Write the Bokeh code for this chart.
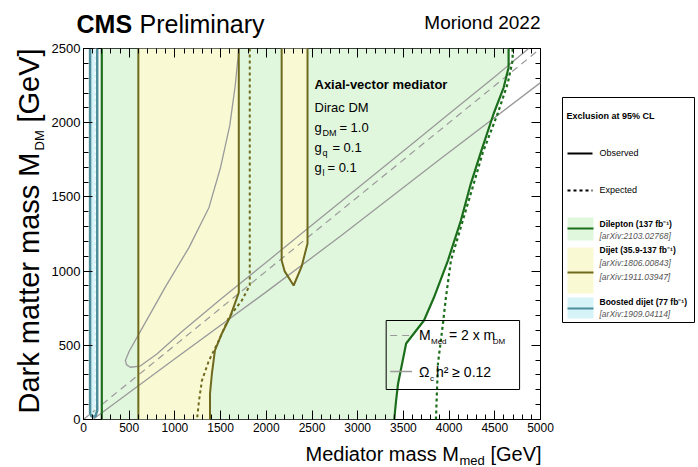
import numpy as np
from bokeh.plotting import figure
from bokeh.layouts import row, column
from bokeh.models import Range1d, LinearAxis, Label, FixedTicker
from bokeh.embed import file_html
from bokeh.resources import INLINE

FONT = "Liberation Sans"

# ---------------- data ----------------
dilep_obs_x = [3400, 3420, 3442, 3530, 3725, 3834, 3987, 4129, 4238, 4347, 4488, 4597, 4651, 4651]
dilep_obs_y = [0, 128, 243, 512, 667, 822, 1071, 1341, 1590, 1800, 2062, 2237, 2372, 2500]
dilep_exp_x = [3856, 3878, 3933, 3965, 4020, 4150, 4270, 4369, 4532, 4641, 4695, 4695]
dilep_exp_y = [0, 377, 647, 822, 1071, 1341, 1590, 1800, 2062, 2264, 2419, 2500]
dilep_left_x = 200

dijet_left_x = 600
dijet_obs_x = [1699, 1699, 1601, 1514, 1438, 1405, 1384, 1384]
dijet_obs_y = [2500, 855, 687, 580, 465, 310, 175, 0]
dijet_exp_x = [1819, 1819, 1732, 1590, 1481, 1373, 1296, 1264, 1242]
dijet_exp_y = [2500, 903, 802, 687, 532, 398, 263, 128, 0]
island_x = [2168, 2168, 2200, 2299, 2386, 2451, 2451]
island_y = [2500, 1071, 1000, 903, 1030, 1186, 2500]

boost_obs_x = [72, 72, 90, 130, 150, 150]
boost_obs_y = [2500, 40, 20, 20, 60, 2500]
boost_exp_x = [128, 128]
boost_exp_y = [60, 2500]

diag_x = [0, 5000]
diag_y = [0, 2500]
relic_up_x = [1700, 1660, 1600, 1500, 1373, 1155, 893, 610, 500, 458, 470, 512, 620, 800, 1078,
              1500, 2000, 2500, 3000, 3500, 4000, 4500, 4870]
relic_up_y = [2500, 2250, 1980, 1700, 1429, 1160, 890, 580, 460, 398, 370, 352, 360, 440, 593,
              810, 1060, 1310, 1560, 1810, 2060, 2310, 2500]
relic_lo_x = [100, 131, 1000, 2000, 2821, 3910, 5000]
relic_lo_y = [0, 13, 410, 860, 1240, 1759, 2270]

x_ticks = [0, 500, 1000, 1500, 2000, 2500, 3000, 3500, 4000, 4500, 5000]
y_ticks = [0, 500, 1000, 1500, 2000, 2500]

# ---------------- colours ----------------
GREEN_FILL = "#e0f7dd"
GREEN_LINE = "#1b6e1b"
YELLOW_FILL = "#f9fad4"
OLIVE = "#6e691d"
CYAN_FILL = "#d6f3f7"
TEAL = "#4e8e9a"
GRAY = "#9a9a9a"

TOTAL_H = 467
LEFT_W = 48          # y-label strip
TOP_H = 40           # title strip
BOT_H = 24           # x-label strip
PW = 508             # main figure width
PH = TOTAL_H - TOP_H - BOT_H
LEG_W = 698 - LEFT_W - PW

p = figure(width=PW, height=PH, output_backend="svg", toolbar_location=None,
           x_range=Range1d(0, 5000), y_range=Range1d(0, 2500),
           min_border_left=81 - LEFT_W, min_border_right=16, min_border_top=8, min_border_bottom=24)
p.frame_align = False
p.xgrid.visible = False
p.ygrid.visible = False
p.outline_line_color = "black"
p.outline_line_width = 1
p.border_fill_color = "white"

# fills
p.patch([dilep_left_x] + dilep_obs_x + [dilep_left_x], [0] + dilep_obs_y + [2500],
        fill_color=GREEN_FILL, line_color=None)
p.patch([dijet_left_x, dijet_left_x] + dijet_obs_x, [0, 2500] + dijet_obs_y,
        fill_color=YELLOW_FILL, line_color=None)
p.patch(island_x, island_y, fill_color=YELLOW_FILL, line_color=None)
p.patch(boost_obs_x, boost_obs_y, fill_color=CYAN_FILL, line_color=None)

# relic lines
p.line(diag_x, diag_y, line_color=GRAY, line_width=1.2, line_dash="7 5")
p.line(relic_up_x, relic_up_y, line_color=GRAY, line_width=1.3)
p.line(relic_lo_x, relic_lo_y, line_color=GRAY, line_width=1.3)

# contour lines
p.line([dilep_left_x, dilep_left_x], [0, 2500], line_color=GREEN_LINE, line_width=2.2)
p.line(dilep_obs_x, dilep_obs_y, line_color=GREEN_LINE, line_width=2.2)
p.line(dilep_exp_x, dilep_exp_y, line_color=GREEN_LINE, line_width=2.2, line_dash="3 3")
p.line([dijet_left_x, dijet_left_x], [0, 2500], line_color=OLIVE, line_width=2)
p.line(dijet_obs_x, dijet_obs_y, line_color=OLIVE, line_width=2)
p.line(dijet_exp_x, dijet_exp_y, line_color=OLIVE, line_width=2, line_dash="3 3")
p.line(island_x, island_y, line_color=OLIVE, line_width=2)
p.line(boost_obs_x, boost_obs_y, line_color=TEAL, line_width=2.5)
p.line(boost_exp_x, boost_exp_y, line_color="white", line_width=1.2, line_dash="3 3")

# axes, ROOT style with ticks inside
def style_axis(ax, show_labels, fsize):
    ax.major_tick_in = 9
    ax.major_tick_out = 0
    ax.minor_tick_in = 5
    ax.minor_tick_out = 0
    ax.major_tick_line_color = "black"
    ax.minor_tick_line_color = "black"
    ax.axis_line_color = None
    ax.major_label_text_font = FONT
    ax.major_label_text_font_size = fsize
    ax.major_label_text_color = "black"
    if not show_labels:
        ax.major_label_text_font_size = "0px"
        ax.major_label_text_color = None
        ax.major_label_standoff = 0

xminor = list(range(0, 5001, 100))
yminor = list(range(0, 2501, 100))
p.xaxis.ticker = FixedTicker(ticks=x_ticks, minor_ticks=xminor)
p.yaxis.ticker = FixedTicker(ticks=y_ticks, minor_ticks=yminor)
style_axis(p.xaxis[0], True, "12px")
style_axis(p.yaxis[0], True, "13px")
p.xaxis.major_label_standoff = 3
p.yaxis.major_label_standoff = 3

ax_top = LinearAxis(ticker=FixedTicker(ticks=x_ticks, minor_ticks=xminor))
style_axis(ax_top, False, "12px")
p.add_layout(ax_top, "above")
ax_right = LinearAxis(ticker=FixedTicker(ticks=y_ticks, minor_ticks=yminor))
style_axis(ax_right, False, "12px")
p.add_layout(ax_right, "right")

# Text placement: (px, py) is the text's baseline point in page pixels; labels are
# anchored at their vertical middle, about 0.36 em above the baseline.
MID = 0.36

def fs_num(size):
    return float(size.replace("px", ""))

def dx(px):
    return (px - 81) * 5000 / 459
def dy(py):
    return (419 - py) * 2500 / 371

def lab(px, py, text, size, style="normal", color="black", align="left"):
    cy = py - MID * fs_num(size)
    p.add_layout(Label(x=dx(px), y=dy(cy), text=text, text_font=FONT, text_font_size=size,
                       text_font_style=style, text_color=color, text_align=align,
                       text_baseline="middle"))

lab(313, 89, "Axial-vector mediator", "13px", "bold")
lab(313, 112, "Dirac DM", "13px")
lab(313, 132, "g", "13px")
lab(321, 136, "DM", "9px")
lab(338, 132, "= 1.0", "13px")
lab(313, 152, "g", "13px")
lab(321, 156, "q", "9px")
lab(331, 152, "= 0.1", "13px")
lab(313, 172, "g", "13px")
lab(321, 176, "l", "9px")
lab(326, 172, "= 0.1", "13px")

# inner legend
bx = [dx(385), dx(519), dx(519), dx(385), dx(385)]
by = [dy(320), dy(320), dy(389), dy(389), dy(320)]
p.line(bx, by, line_color="black", line_width=1)
p.line([dx(389), dx(411)], [dy(335), dy(335)], line_color=GRAY, line_width=1.2, line_dash="7 5")
p.line([dx(389), dx(411)], [dy(371), dy(371)], line_color=GRAY, line_width=1.3)
lab(418, 340, "M", "14px")
lab(430, 344, "Med", "8px")
lab(448, 340, "= 2 x m", "14px")
lab(492, 344, "DM", "8px")
lab(418, 377, "Ω", "14px")
lab(429, 381, "c", "8px")
lab(435, 377, "h² ≥ 0.12", "14px")

# ---------------- helper strips (texts outside the frame) ----------------
def blank(w, h):
    f = figure(width=w, height=h, output_backend="svg", toolbar_location=None,
               x_range=Range1d(0, w), y_range=Range1d(0, h),
               x_axis_location=None, y_axis_location=None,
               min_border_left=0, min_border_right=0, min_border_top=0, min_border_bottom=0)
    f.frame_align = False
    f.grid.visible = False
    f.outline_line_color = None
    f.border_fill_color = "white"
    f.background_fill_color = "white"
    return f

def put(f, ox, oy, px, py, text, size, style="normal", color="black", align="left", rotated=False):
    fs = fs_num(size)
    if rotated:
        cx, cy = px - MID * fs, py
        ang = np.pi / 2
    else:
        cx, cy = px, py - MID * fs
        ang = 0
    f.add_layout(Label(x=cx - ox, y=f.height - (cy - oy), text=text, text_font=FONT,
                       text_font_size=size, text_font_style=style, text_color=color,
                       text_align=align, text_baseline="middle", angle=ang))

# title strip
top = blank(PW, TOP_H)
put(top, LEFT_W, 0, 76, 32, "CMS", "25px", "bold")
put(top, LEFT_W, 0, 139, 32, "Preliminary", "25px")
put(top, LEFT_W, 0, 540, 29, "Moriond 2022", "19px", align="right")

# x-label strip
bot = blank(PW, BOT_H)
oy_b = TOP_H + PH
put(bot, LEFT_W, oy_b, 305, 461, "Mediator mass M", "20px")
put(bot, LEFT_W, oy_b, 459, 465, "med", "13px")
put(bot, LEFT_W, oy_b, 490, 461, "[GeV]", "20px")

# y-label strip (reads bottom to top)
left = blank(LEFT_W, TOTAL_H)
put(left, 0, 0, 39, 413, "Dark matter mass M", "29px", rotated=True)
put(left, 0, 0, 44, 150, "DM", "13px", rotated=True)
put(left, 0, 0, 39, 122, "[GeV]", "29px", rotated=True)

# ---------------- right legend panel ----------------
q = blank(LEG_W, TOTAL_H)
X0 = LEFT_W + PW
def qx(px):
    return px - X0
def qy(py):
    return TOTAL_H - py

def qlab(px, py, text, size, style="normal", color="black"):
    put(q, X0, 0, px, py, text, size, style, color)

q.line([qx(562), qx(694), qx(694), qx(562), qx(562)],
       [qy(97), qy(97), qy(322), qy(322), qy(97)], line_color="black", line_width=1)

qlab(566, 119, "Exclusion at 95% CL", "9px", "bold")
q.line([qx(567), qx(592)], [qy(153), qy(153)], line_color="black", line_width=2)
qlab(599, 156, "Observed", "9px")
q.line([qx(567), qx(592)], [qy(190), qy(190)], line_color="black", line_width=2, line_dash="3 3")
qlab(599, 193, "Expected", "9px")

entries = [
    (217, 240, 228, GREEN_FILL, GREEN_LINE,
     [("Dilepton (137 fb⁻¹)", 227, "bold", "black"), ("[arXiv:2103.02768]", 239, "italic", "#555555")]),
    (247, 293, 272, YELLOW_FILL, OLIVE,
     [("Dijet (35.9-137 fb⁻¹)", 253, "bold", "black"), ("[arXiv:1806.00843]", 266, "italic", "#555555"),
      ("[arXiv:1911.03947]", 280, "italic", "#555555")]),
    (297, 318, 308, CYAN_FILL, TEAL,
     [("Boosted dijet (77 fb⁻¹)", 305, "bold", "black"), ("[arXiv:1909.04114]", 317, "italic", "#555555")]),
]
for t_, b_, ly, fc, lc, texts in entries:
    q.quad(left=qx(567), right=qx(593), top=qy(t_), bottom=qy(b_), fill_color=fc, line_color=None)
    q.line([qx(567), qx(593)], [qy(ly), qy(ly)], line_color=lc, line_width=2)
    for t, ty, st, col in texts:
        qlab(599, ty, t, "8.5px", st, col)

layout = row(left, column(top, p, bot), q)
open("out.html", "w").write(file_html(layout, INLINE))
